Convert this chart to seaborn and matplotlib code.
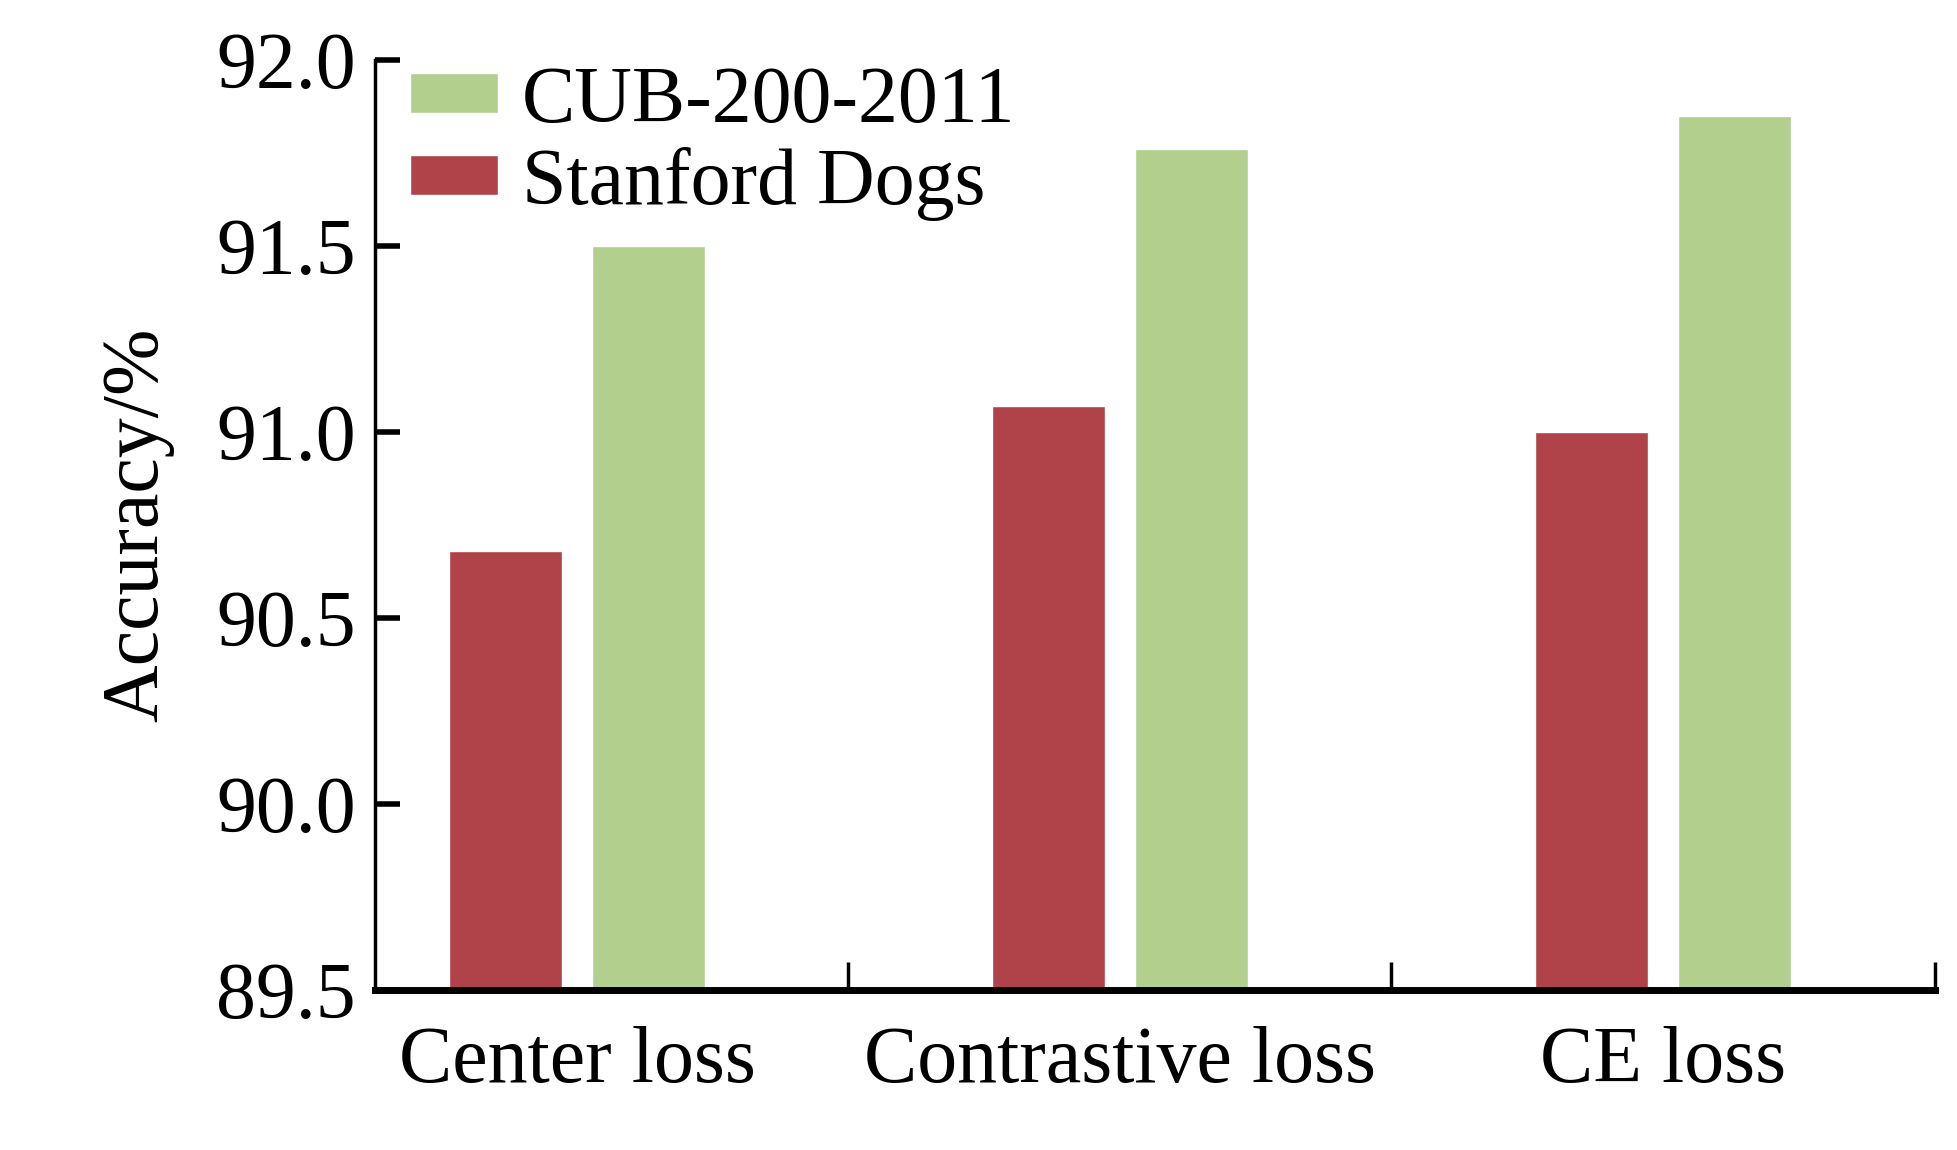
import pandas as pd
import matplotlib
matplotlib.use("Agg")
import matplotlib.pyplot as plt
import seaborn as sns
from matplotlib.ticker import FixedLocator

# data
losses = ["Center loss", "Contrastive loss", "CE loss"]
stanford_dogs = [90.68, 91.07, 91.00]
cub_200_2011 = [91.50, 91.76, 91.85]
datasets = ["Stanford Dogs", "CUB-200-2011"]
y_ticks = [89.5, 90.0, 90.5, 91.0, 91.5, 92.0]

df = pd.DataFrame({
    "loss": losses * 2,
    "dataset": [datasets[0]] * 3 + [datasets[1]] * 3,
    "acc": stanford_dogs + cub_200_2011,
})

sns.set_style("ticks")
plt.rcParams["font.family"] = ["Liberation Serif", "DejaVu Serif"]
plt.rcParams["text.color"] = "black"
plt.rcParams["axes.labelcolor"] = "black"
plt.rcParams["xtick.color"] = "black"
plt.rcParams["ytick.color"] = "black"
plt.rcParams["axes.edgecolor"] = "black"

palette = {"Stanford Dogs": "#B0424A", "CUB-200-2011": "#B2CF8E"}
fs = 57.5

fig = plt.figure(figsize=(19.58, 11.5), dpi=100)
ax = fig.add_axes([0.1915, 0.139, 0.7965, 0.809])

sns.barplot(data=df, x="loss", y="acc", hue="dataset", order=losses,
            hue_order=datasets, palette=palette, width=0.525, gap=0.21,
            saturation=1, errorbar=None, ax=ax)

ax.set_ylim(89.5, 92.0)
ax.set_xlim(-0.372, 2.5)
ax.set_yticks(y_ticks)
ax.set_yticklabels([f"{v:.1f}" for v in y_ticks], fontsize=fs)
ax.set_xticks(range(len(losses)))
ax.set_xticklabels(losses, fontsize=fs)
ax.xaxis.set_minor_locator(FixedLocator([0.5, 1.5, 2.5]))
ax.tick_params(axis="x", which="major", length=0, pad=26)
ax.tick_params(axis="x", which="minor", direction="in", length=20, width=2.5)
ax.tick_params(axis="y", direction="in", length=18, width=4, pad=14)

ax.set_xlabel("")
ax.set_ylabel("Accuracy/%", fontsize=fs, labelpad=30)

for s in ["top", "right"]:
    ax.spines[s].set_visible(False)
ax.spines["left"].set_linewidth(2.5)
ax.spines["bottom"].set_linewidth(5)

handles, labels = ax.get_legend_handles_labels()
ax.legend(handles[::-1], labels[::-1], loc="upper left", frameon=False,
          fontsize=fs, handlelength=1.1, handleheight=0.4,
          handletextpad=0.3, labelspacing=0.1,
          bbox_to_anchor=(-0.008, 1.045), borderaxespad=0.2)

fig.savefig("out.png", dpi=100)
